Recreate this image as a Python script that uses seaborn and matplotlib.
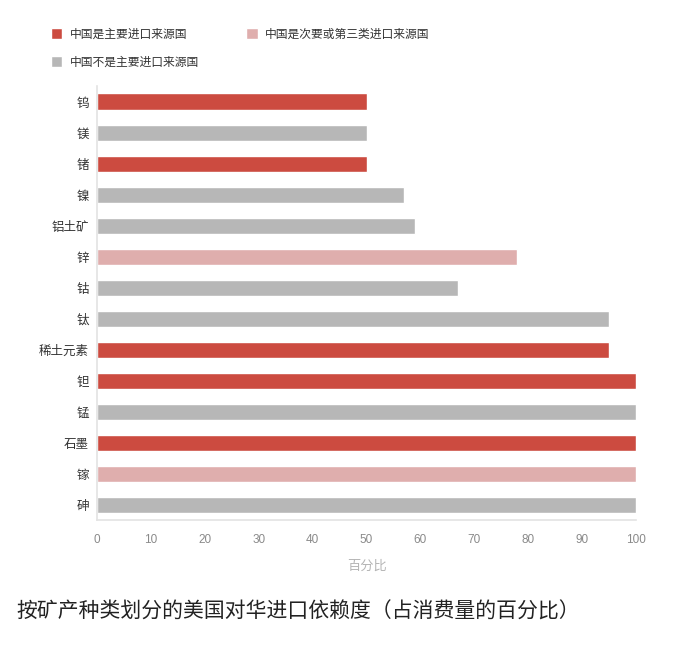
import matplotlib
matplotlib.use("Agg")
import matplotlib.pyplot as plt
import seaborn as sns
import pandas as pd
from matplotlib.patches import Patch

minerals = ["钨", "镁", "锗", "镍", "铝土矿", "锌", "钴", "钛", "稀土元素", "钽", "锰", "石墨", "镓", "砷"]
values = [50, 50, 50, 57, 59, 78, 67, 95, 95, 100, 100, 100, 100, 100]
cat_main = "中国是主要进口来源国"
cat_second = "中国是次要或第三类进口来源国"
cat_not = "中国不是主要进口来源国"
categories = [cat_main, cat_not, cat_main, cat_not, cat_not, cat_second, cat_not,
              cat_not, cat_main, cat_main, cat_not, cat_main, cat_second, cat_not]
xticks = [0, 10, 20, 30, 40, 50, 60, 70, 80, 90, 100]
xlabel = "百分比"
caption = "按矿产种类划分的美国对华进口依赖度（占消费量的百分比）"

palette = {cat_main: "#CC4B40", cat_second: "#DFAEAD", cat_not: "#B7B7B7"}

sns.set_theme(style="white")
plt.rcParams['font.family'] = ['Noto Sans CJK SC', 'DejaVu Sans']

df = pd.DataFrame({"mineral": minerals, "value": values, "cat": categories})

fig = plt.figure(figsize=(7.0, 6.47), dpi=100)
ax = fig.add_axes([0.1386, 0.196, 0.770, 0.671])
sns.barplot(data=df, x="value", y="mineral", hue="cat", palette=palette,
            dodge=False, width=0.52, orient="h", ax=ax, legend=False,
            order=minerals, saturation=1)

ax.set_xlim(0, 100)
ax.set_xticks(xticks)
ax.set_xticklabels([str(t) for t in xticks], color="#8a8a8a", fontsize=8.5,
                   family=['Liberation Sans', 'DejaVu Sans'])
ax.tick_params(axis="x", length=0, pad=10)
ax.tick_params(axis="y", length=0, pad=6, labelsize=9, labelcolor="#333333")
ax.set_ylabel("")
ax.set_xlabel(xlabel, color="#b5b5b5", fontsize=9.5, labelpad=10)
for s in ["top", "right"]:
    ax.spines[s].set_visible(False)
for s in ["left", "bottom"]:
    ax.spines[s].set_color("#e3e3e3")
    ax.spines[s].set_linewidth(1.2)
ax.set_ylim(len(minerals) - 0.5, -0.5)

handles = [Patch(facecolor=palette[cat_main], label=cat_main),
           Patch(facecolor=palette[cat_not], label=cat_not),
           Patch(facecolor=palette[cat_second], label=cat_second)]
fig.legend(handles=handles, ncol=2, loc="upper left", bbox_to_anchor=(0.057, 0.974),
           frameon=False, fontsize=8.5, handlelength=1.0, handleheight=1.0,
           handletextpad=0.6, columnspacing=4.0, labelspacing=1.3,
           labelcolor="#333333")

fig.text(0.023, 0.054, caption, fontsize=15, color="#222222", ha="left", va="center")

fig.savefig("out.png", dpi=100, facecolor="white")
